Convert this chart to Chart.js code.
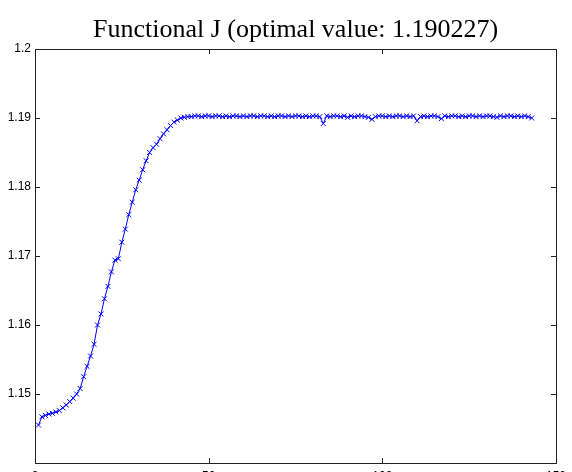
<!DOCTYPE html>
<html>
<head>
<meta charset="utf-8">
<script src="https://cdn.jsdelivr.net/npm/chart.js@4.4.1/dist/chart.umd.min.js"></script>
<style>
  html, body { margin: 0; padding: 0; background: #fff; overflow: hidden; }
  #wrap { width: 572px; height: 490px; }
</style>
</head>
<body>
<div id="wrap"><canvas id="chart" width="572" height="490"></canvas></div>
<script>
const titleText = 'Functional J (optimal value: 1.190227)';

// J value at each iteration (iteration number = position + 1)
const riseValues = [
  1.1455, 1.1467, 1.1469, 1.1471, 1.1472, 1.1474, 1.1476, 1.1480, 1.1484, 1.1489,
  1.1494, 1.1500, 1.1508, 1.1525, 1.1540, 1.1555, 1.1572, 1.1600, 1.1616, 1.1638,
  1.1656, 1.1677, 1.1694, 1.1696, 1.1720, 1.1739, 1.1760, 1.1778, 1.1796, 1.1810,
  1.1825, 1.1838, 1.1850, 1.1857, 1.1862, 1.1870, 1.1877, 1.1883, 1.1889, 1.1894,
  1.1897, 1.1900, 1.1901, 1.1902
];
const plateauValues = [
  1.1902, 1.1903, 1.1903, 1.1902, 1.1903, 1.1903, 1.1902, 1.1903, 1.1903, 1.1902,
  1.1903, 1.1902, 1.1903, 1.1903, 1.1902, 1.1903, 1.1902, 1.1903, 1.1903, 1.1902,
  1.1903, 1.1903, 1.1902, 1.1903, 1.1902, 1.1903, 1.1903, 1.1902, 1.1903, 1.1902,
  1.1903, 1.1903, 1.1902, 1.1903, 1.1902, 1.1903, 1.1903, 1.1902,
  1.1892,
  1.1903, 1.1902, 1.1903, 1.1903, 1.1902, 1.1903, 1.1901, 1.1903, 1.1902, 1.1903,
  1.1903, 1.1902, 1.1901,
  1.1898,
  1.1902, 1.1903, 1.1903, 1.1902, 1.1903, 1.1902, 1.1903, 1.1903, 1.1902, 1.1903,
  1.1902, 1.1903,
  1.1896,
  1.1902, 1.1903, 1.1902, 1.1903, 1.1903, 1.1902,
  1.1899,
  1.1903, 1.1902, 1.1903, 1.1903, 1.1902, 1.1903, 1.1902, 1.1903, 1.1903, 1.1902,
  1.1903, 1.1902, 1.1903, 1.1903, 1.1902, 1.1901, 1.1903, 1.1902, 1.1903, 1.1903,
  1.1902, 1.1903, 1.1902, 1.1903, 1.1902,
  1.1900
];
const jValues = riseValues.concat(plateauValues);

const xTicks = [0, 50, 100, 150];
const yTicks = [1.14, 1.15, 1.16, 1.17, 1.18, 1.19, 1.2];

const points = jValues.map((v, i) => ({ x: i + 1, y: v }));

// matlab style box with inward ticks on all four sides, title centred over the axes
const boxPlugin = {
  id: 'matlabBox',
  afterDatasetsDraw(chart) {
    const { ctx, chartArea: a, scales } = chart;
    const len = 5;
    ctx.save();
    ctx.strokeStyle = '#222';
    ctx.lineWidth = 1;
    ctx.beginPath();
    xTicks.forEach(t => {
      const px = Math.round(scales.x.getPixelForValue(t)) + 0.5;
      ctx.moveTo(px, a.bottom); ctx.lineTo(px, a.bottom - len);
      ctx.moveTo(px, a.top); ctx.lineTo(px, a.top + len);
    });
    yTicks.forEach(t => {
      const py = Math.round(scales.y.getPixelForValue(t)) + 0.5;
      ctx.moveTo(a.left, py); ctx.lineTo(a.left + len, py);
      ctx.moveTo(a.right, py); ctx.lineTo(a.right - len, py);
    });
    ctx.stroke();
    ctx.strokeRect(Math.round(a.left) + 0.5, Math.round(a.top) + 0.5,
      Math.round(a.right - a.left), Math.round(a.bottom - a.top));

    ctx.fillStyle = '#000';
    ctx.font = '26px "Liberation Serif", "Times New Roman", serif';
    ctx.textAlign = 'center';
    ctx.textBaseline = 'alphabetic';
    ctx.fillText(titleText, (a.left + a.right) / 2, 37);
    ctx.restore();
  }
};

new Chart(document.getElementById('chart').getContext('2d'), {
  type: 'scatter',
  data: {
    datasets: [{
      data: points,
      showLine: true,
      borderColor: '#0000ff',
      borderWidth: 1,
      pointStyle: 'crossRot',
      pointRadius: 3.5,
      pointBorderColor: '#0000ff',
      pointBorderWidth: 1,
      pointHoverRadius: 3.5
    }]
  },
  options: {
    responsive: false,
    animation: false,
    layout: { padding: { left: 0, right: 9, top: 49, bottom: 0 } },
    plugins: {
      legend: { display: false },
      tooltip: { enabled: false },
      title: { display: false }
    },
    scales: {
      x: {
        type: 'linear',
        min: 0,
        max: 150,
        afterBuildTicks: s => { s.ticks = xTicks.map(v => ({ value: v })); },
        afterFit: s => { s.height = 27; },
        grid: { display: false, drawTicks: false },
        border: { display: false },
        ticks: {
          color: '#000',
          padding: 6,
          maxRotation: 0,
          font: { family: '"Liberation Sans", Arial, sans-serif', size: 12 }
        }
      },
      y: {
        min: 1.14,
        max: 1.2,
        afterBuildTicks: s => { s.ticks = yTicks.map(v => ({ value: v })); },
        afterFit: s => { s.width = 35; },
        grid: { display: false, drawTicks: false },
        border: { display: false },
        ticks: {
          color: '#000',
          padding: 4,
          font: { family: '"Liberation Sans", Arial, sans-serif', size: 12 },
          callback: v => (v < 1.145 ? '' : String(parseFloat(v.toFixed(2))))
        }
      }
    }
  },
  plugins: [boxPlugin]
});
</script>
</body>
</html>
